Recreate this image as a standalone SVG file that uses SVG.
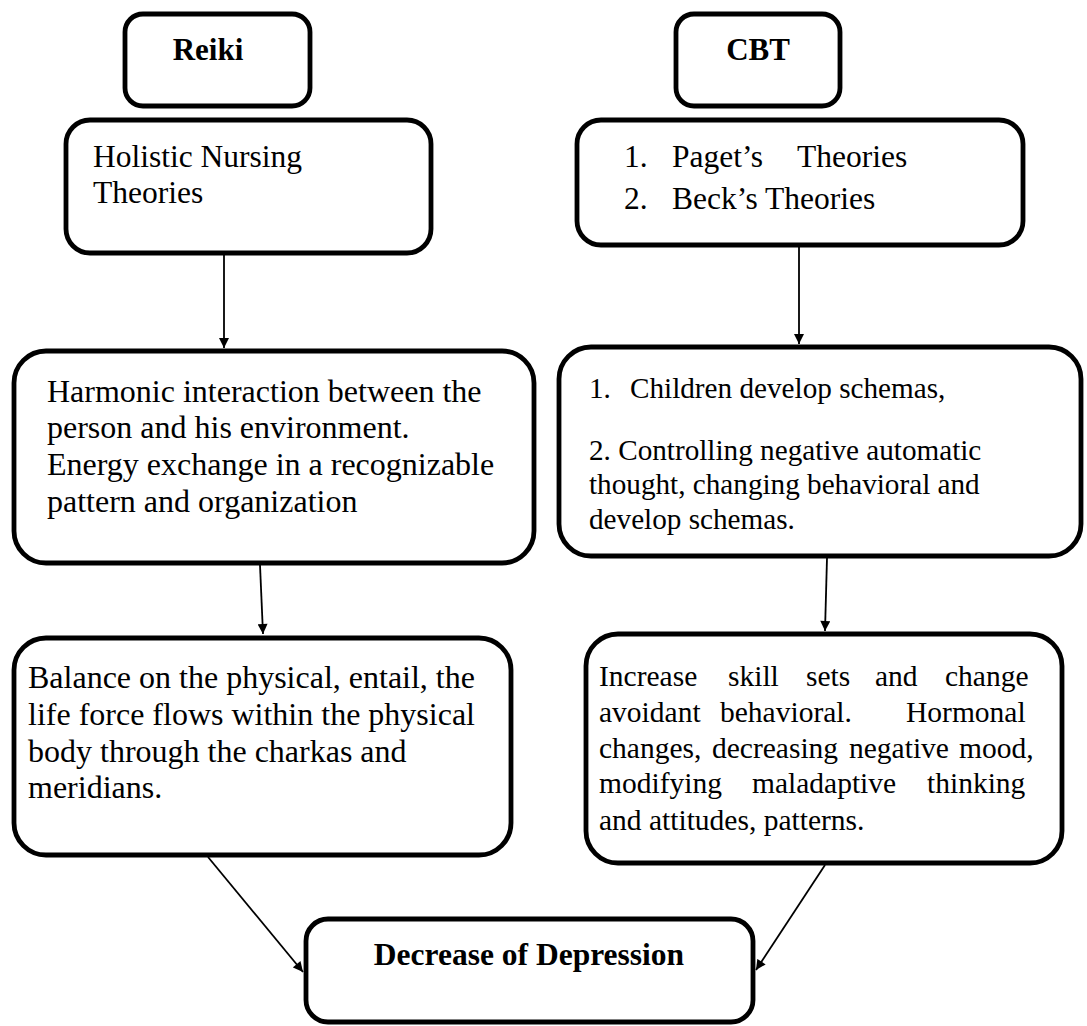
<svg xmlns="http://www.w3.org/2000/svg" width="1087" height="1026" viewBox="0 0 1087 1026">
<style>
.box{fill:#fff;stroke:#000;stroke-width:4.8}
.t{font-family:"Liberation Serif","Times New Roman",serif;fill:#000}
.b{font-weight:bold}
.conn{stroke:#000;stroke-width:1.8;fill:none}
</style>
<defs>
<marker id="ah" viewBox="0 0 10 10" refX="10" refY="5" markerWidth="11" markerHeight="10" markerUnits="userSpaceOnUse" orient="auto">
<path d="M0,0 L10,5 L0,10 z" fill="#000"/>
</marker>
</defs>
<rect width="1087" height="1026" fill="#fff"/>
<g id="connectors">
<line class="conn" x1="224" y1="255" x2="224" y2="348" marker-end="url(#ah)"/>
<line class="conn" x1="799" y1="247" x2="799" y2="344" marker-end="url(#ah)"/>
<line class="conn" x1="260" y1="565" x2="263" y2="634" marker-end="url(#ah)"/>
<line class="conn" x1="827" y1="558" x2="825" y2="631" marker-end="url(#ah)"/>
<line class="conn" x1="208" y1="857" x2="303" y2="972" marker-end="url(#ah)"/>
<line class="conn" x1="825" y1="865" x2="756" y2="970" marker-end="url(#ah)"/>
</g>
<g id="reiki">
<rect class="box" x="125" y="14" width="185" height="92" rx="18"/>
<text class="t b" x="208" y="60" font-size="31" text-anchor="middle">Reiki</text>
</g>
<g id="cbt">
<rect class="box" x="676" y="14" width="164" height="92" rx="18"/>
<text class="t b" x="758" y="60" font-size="31" text-anchor="middle">CBT</text>
</g>
<g id="holistic">
<rect class="box" x="66" y="120" width="365" height="133" rx="24"/>
<text class="t" font-size="31.5"><tspan x="93" y="167">Holistic Nursing</tspan><tspan x="93" y="203">Theories</tspan></text>
</g>
<g id="theories">
<rect class="box" x="577" y="120" width="446" height="125" rx="24"/>
<text class="t" font-size="31.5"><tspan x="624" y="167">1.</tspan><tspan x="672" y="167">Paget’s</tspan><tspan x="797" y="167">Theories</tspan><tspan x="624" y="209">2.</tspan><tspan x="672" y="209">Beck’s Theories</tspan></text>
</g>
<g id="harmonic">
<rect class="box" x="14" y="351" width="520" height="212" rx="32"/>
<text class="t" font-size="32"><tspan x="47" y="402">Harmonic interaction between the</tspan><tspan x="47" y="438">person and his environment.</tspan><tspan x="47" y="475">Energy exchange in a recognizable</tspan><tspan x="47" y="512">pattern and organization</tspan></text>
</g>
<g id="children">
<rect class="box" x="559" y="347" width="522" height="209" rx="32"/>
<text class="t" font-size="29.2"><tspan x="589" y="398">1.</tspan><tspan x="630" y="398">Children develop schemas,</tspan><tspan x="589" y="460">2. Controlling negative automatic</tspan><tspan x="589" y="494">thought, changing behavioral and</tspan><tspan x="589" y="529">develop schemas.</tspan></text>
</g>
<g id="balance">
<rect class="box" x="14" y="638" width="497" height="217" rx="32"/>
<text class="t" font-size="32"><tspan x="28" y="688">Balance on the physical, entail, the</tspan><tspan x="28" y="725">life force flows within the physical</tspan><tspan x="28" y="762">body through the charkas and</tspan><tspan x="28" y="798">meridians.</tspan></text>
</g>
<g id="increase">
<rect class="box" x="586" y="634" width="476" height="229" rx="32"/>
<text class="t" font-size="29.5"><tspan x="599" y="686">Increase</tspan><tspan x="728" y="686">skill</tspan><tspan x="806" y="686">sets</tspan><tspan x="875" y="686">and</tspan><tspan x="945" y="686">change</tspan><tspan x="599" y="722">avoidant</tspan><tspan x="720" y="722">behavioral.</tspan><tspan x="906" y="722">Hormonal</tspan><tspan x="599" y="758">changes,</tspan><tspan x="712" y="758">decreasing</tspan><tspan x="849" y="758">negative</tspan><tspan x="959" y="758">mood,</tspan><tspan x="599" y="793">modifying</tspan><tspan x="752" y="793">maladaptive</tspan><tspan x="927" y="793">thinking</tspan><tspan x="599" y="830">and attitudes, patterns.</tspan></text>
</g>
<g id="decrease">
<rect class="box" x="306" y="919" width="447" height="103" rx="22"/>
<text class="t b" x="529" y="965" font-size="31.5" text-anchor="middle">Decrease of Depression</text>
</g>
</svg>
